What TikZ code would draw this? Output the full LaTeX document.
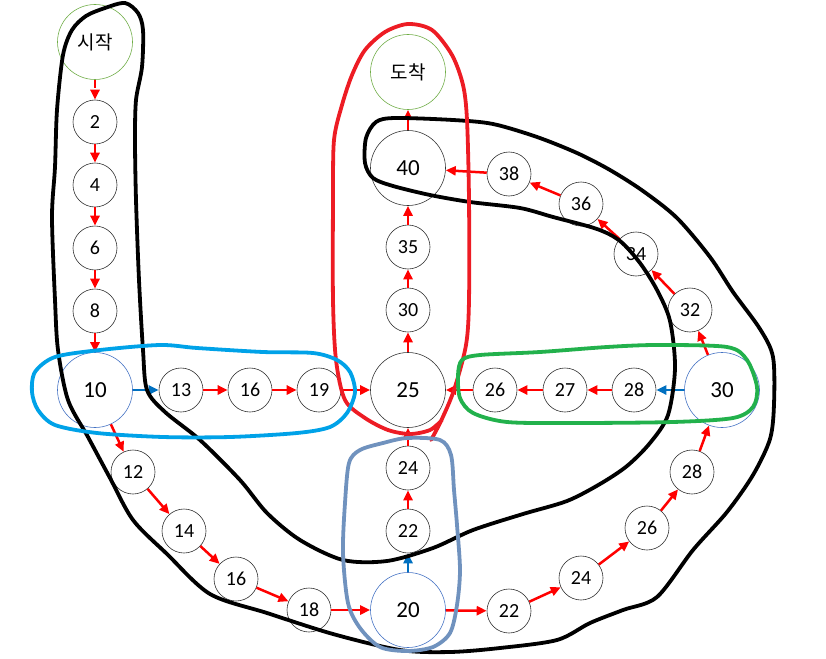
\documentclass[tikz,border=0pt]{standalone}
\usepackage{fontspec}
\setmainfont{Carlito}
\newfontfamily\krfont{Noto Sans CJK KR}
\usetikzlibrary{arrows.meta}
\definecolor{arrred}{HTML}{FF0000}
\definecolor{arrblue}{HTML}{0070C0}
\definecolor{ringblue}{HTML}{4472C4}
\definecolor{ringgreen}{HTML}{70AD47}
\definecolor{penred}{HTML}{ED1C24}
\definecolor{pencyan}{HTML}{00A2E8}
\definecolor{pensteel}{HTML}{7092BE}
\definecolor{pengreen}{HTML}{22B14C}

\begin{document}
\begin{tikzpicture}[
  x=1pt, y=-1pt,
  >={Triangle[length=10pt, width=9pt]},
  num/.style={circle, draw=black!80, line width=0.6pt, fill=white,
    minimum size=44pt, inner sep=0pt, font=\fontsize{20}{20}\selectfont},
  bignum/.style={num, minimum size=75pt, font=\fontsize{23}{23}\selectfont},
  bluering/.style={bignum, draw=ringblue},
  greenring/.style={bignum, draw=ringgreen, font=\krfont\fontsize{19}{19}\selectfont},
  redarr/.style={->, arrred, line width=2.5pt},
  bluearr/.style={->, arrblue, line width=2.5pt},
  sketch/.style={line width=3.8pt, line cap=round, line join=round},
]
\useasboundingbox (0,0) rectangle (826,658);

% ══════════════════════════════════════════════════════
% Left column (start -> 10)
% ══════════════════════════════════════════════════════
\node[greenring] (st) at (95,42) {시작};
\node[num] (n2) at (95,122) {2};
\node[num] (n4) at (95,185) {4};
\node[num] (n6) at (95,248) {6};
\node[num] (n8) at (95,311) {8};
\node[bluering] (n10) at (95,390) {10};

% ══════════════════════════════════════════════════════
% Middle row and centre column
% ══════════════════════════════════════════════════════
\node[num] (n13) at (181,390) {13};
\node[num] (n16) at (250,390) {16};
\node[num] (n19) at (319,390) {19};
\node[bignum] (n25) at (408,390) {25};
\node[num] (n30a) at (408,310) {30};
\node[num] (n35) at (408,247) {35};
\node[bignum] (n40) at (408,168) {40};
\node[greenring] (en) at (408,72) {도착};

% ══════════════════════════════════════════════════════
% Upper right arc (30 -> 40)
% ══════════════════════════════════════════════════════
\node[bluering] (n30) at (722,390) {30};
\node[num] (n32) at (690,310) {32};
\node[num] (n34) at (636,254) {34};
\node[num] (n36) at (581,204) {36};
\node[num] (n38) at (509,174) {38};

% right row back to 25
\node[num] (n28a) at (634,390) {28};
\node[num] (n27) at (565,390) {27};
\node[num] (n26a) at (495,390) {26};

% ══════════════════════════════════════════════════════
% Lower arc (10 -> 20 -> 30)
% ══════════════════════════════════════════════════════
\node[num] (n12) at (133,472) {12};
\node[num] (n14) at (184,531) {14};
\node[num] (n16b) at (236,579) {16};
\node[num] (n18) at (309,610) {18};
\node[bluering] (n20) at (408,610) {20};
\node[num] (n22a) at (408,531) {22};
\node[num] (n24a) at (408,468) {24};
\node[num] (n22) at (509,611) {22};
\node[num] (n24) at (581,578) {24};
\node[num] (n26) at (647,528) {26};
\node[num] (n28) at (692,472) {28};

% ══════════════════════════════════════════════════════
% Arrows
% ══════════════════════════════════════════════════════
\draw[redarr, dash pattern=on 8pt off 8pt] (st) -- (n2);
\draw[redarr] (n2) -- (n4);
\draw[redarr] (n4) -- (n6);
\draw[redarr] (n6) -- (n8);
\draw[redarr] (n8) -- (n10);
\draw[bluearr] (n10) -- (n13);
\draw[redarr] (n13) -- (n16);
\draw[redarr] (n16) -- (n19);
\draw[redarr] (n19) -- (n25);
\draw[redarr] (n25) -- (n30a);
\draw[redarr] (n30a) -- (n35);
\draw[redarr] (n35) -- (n40);
\draw[redarr] (n40) -- (en);

\draw[redarr] (n30) -- (n32);
\draw[redarr] (n32) -- (n34);
\draw[redarr] (n34) -- (n36);
\draw[redarr] (n36) -- (n38);
\draw[redarr] (n38) -- (n40);

\draw[bluearr] (n30) -- (n28a);
\draw[redarr] (n28a) -- (n27);
\draw[redarr] (n27) -- (n26a);
\draw[redarr] (n26a) -- (n25);

\draw[redarr] (n10) -- (n12);
\draw[redarr] (n12) -- (n14);
\draw[redarr] (n14) -- (n16b);
\draw[redarr] (n16b) -- (n18);
\draw[redarr] (n18) -- (n20);
\draw[bluearr] (n20) -- (n22a);
\draw[redarr] (n22a) -- (n24a);
\draw[redarr] (n24a) -- (n25);
\draw[redarr] (n20) -- (n22);
\draw[redarr] (n22) -- (n24);
\draw[redarr] (n24) -- (n26);
\draw[redarr] (n26) -- (n28);
\draw[redarr] (n28) -- (n30);

% ══════════════════════════════════════════════════════
% Hand-drawn outlines
% ══════════════════════════════════════════════════════
% black route
\draw[sketch, black] plot[smooth cycle, tension=0.5] coordinates {
  (125,3) (138,13) (143,30) (142,67) (136,100) (135,140) (136,200)
  (139,280) (143,350) (147,390) (165,412) (200,440) (240,480) (267,513)
  (300,540) (343,560) (387,561) (433,548) (473,530) (523,514) (567,501)
  (600,484) (627,466) (650,443) (668,415) (675,368) (670,321) (657,290)
  (640,263) (620,241) (597,229) (553,217) (520,208) (470,202) (430,195)
  (393,186) (373,178) (365,163) (366,138) (376,122) (395,118) (453,120)
  (493,124) (537,137) (577,153) (610,170) (643,191) (677,218) (710,257)
  (733,292) (760,329) (773,357) (774,404) (770,439) (753,475) (727,512)
  (693,550) (657,597) (623,610) (590,623) (557,640) (500,648) (450,652)
  (400,650) (333,634) (267,613) (210,594) (167,554) (133,520) (110,478)
  (88,437) (68,400) (58,350) (55,300) (52,217) (55,167) (57,110) (63,55)
  (72,30) (86,16) (105,8)};

% red group
\draw[sketch, penred] plot[smooth, tension=0.5] coordinates {
  (431,440) (441,421) (454,390) (466,345) (469,300) (469,200) (467,120)
  (463,85) (452,55) (432,30) (408,24) (385,32) (365,50) (352,75)
  (342,105) (334,140) (333,200) (333,300) (336,360) (345,400)
  (365,418) (388,430) (410,434) (430,430) (442,420)};

% cyan group
\draw[sketch, pencyan] plot[smooth cycle, tension=0.5] coordinates {
  (160,345) (100,350) (55,357) (35,372) (32,392) (38,410) (55,425)
  (97,433) (163,437) (230,437) (297,433) (330,427) (347,413) (355,392)
  (350,372) (337,360) (313,353) (263,352) (197,348)};

% steel group
\draw[sketch, pensteel] plot[smooth cycle, tension=0.5] coordinates {
  (383,443) (407,438) (440,440) (451,455) (454,490) (457,525) (460,570)
  (457,605) (450,633) (433,647) (407,651) (380,647) (360,628) (348,603)
  (343,553) (345,503) (349,463) (360,450)};

% green group
\draw[sketch, pengreen] plot[smooth cycle, tension=0.5] coordinates {
  (462,360) (480,355) (540,352) (607,347) (657,345) (727,347) (747,360)
  (757,387) (753,407) (733,418) (673,422) (573,423) (507,422) (473,413)
  (460,398) (458,375)};

\end{tikzpicture}
\end{document}
